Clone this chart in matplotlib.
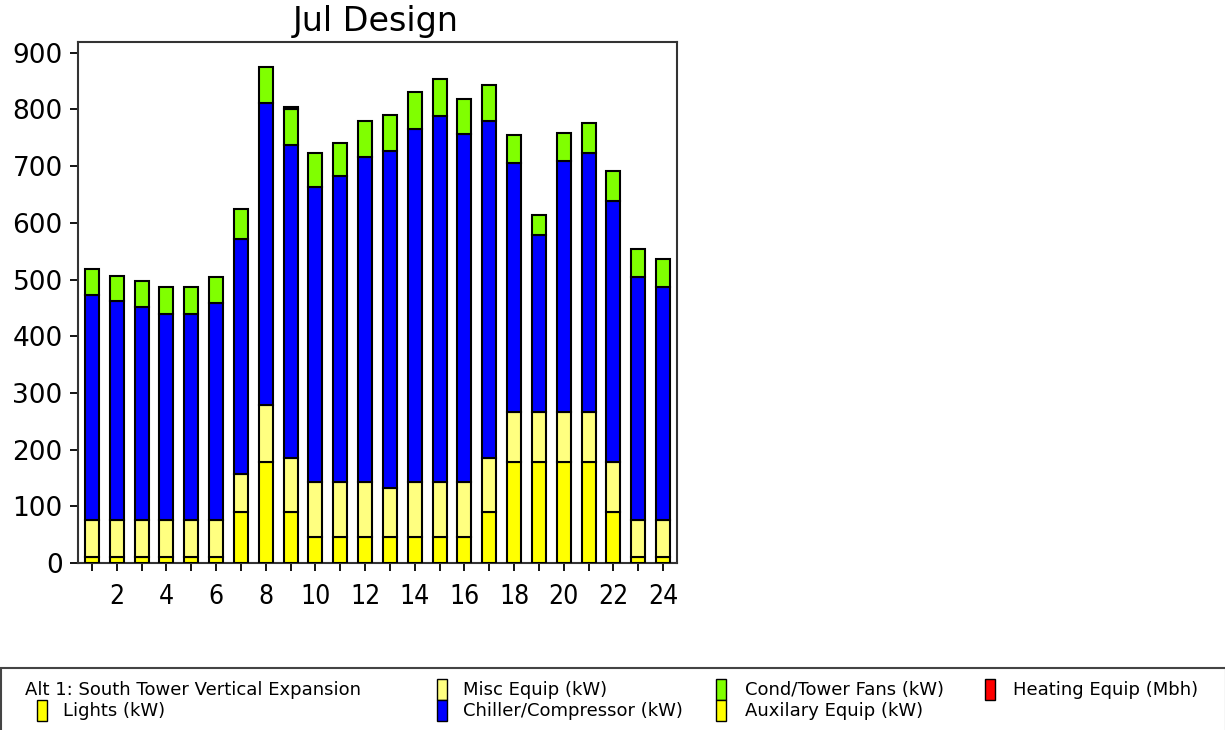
import matplotlib
matplotlib.use("Agg")
import matplotlib.pyplot as plt
from matplotlib.patches import Rectangle
from matplotlib import font_manager
import numpy as np

hours = list(range(1, 25))
lights = [10, 10, 10, 10, 10, 10, 90, 179, 90, 45, 45, 45, 45, 45, 45, 45, 90, 179, 179, 179, 179, 90, 10, 10]
auxiliary = [0] * 24
misc = [65, 65, 65, 65, 65, 65, 67, 99, 95, 98, 98, 98, 87, 98, 98, 98, 95, 88, 88, 88, 88, 89, 65, 65]
chiller = [397, 387, 376, 365, 365, 384, 414, 534, 553, 521, 539, 574, 595, 623, 645, 613, 595, 438, 311, 442, 456, 460, 429, 412]
fans = [46, 45, 46, 46, 46, 45, 53, 63, 63, 59, 59, 63, 64, 64, 66, 63, 64, 50, 36, 49, 53, 53, 49, 49]
heating = [0, 0, 0, 0, 0, 0, 0, 0, 4, 0, 0, 0, 0, 0, 0, 0, 0, 0, 0, 0, 0, 0, 0, 0]
yticks = [0, 100, 200, 300, 400, 500, 600, 700, 800, 900]
xlabels = ["" if h % 2 else str(h) for h in hours]

series = [
    ("Lights (kW)", lights, "#FFFF00"),
    ("Auxilary Equip (kW)", auxiliary, "#FFFF00"),
    ("Misc Equip (kW)", misc, "#FFFF80"),
    ("Chiller/Compressor (kW)", chiller, "#0000FF"),
    ("Cond/Tower Fans (kW)", fans, "#80FF00"),
    ("Heating Equip (Mbh)", heating, "#FF0000"),
]

W, H = 1225, 730
fig = plt.figure(figsize=(W / 100, H / 100), dpi=100)
ax = fig.add_axes([78 / W, 1 - 563 / H, (677 - 78) / W, (563 - 42) / H])

bottom = np.zeros(24)
for name, vals, col in series:
    v = np.array(vals, dtype=float)
    mask = v > 0
    ax.bar(np.array(hours)[mask], v[mask], bottom=bottom[mask], width=0.56,
           color=col, edgecolor="black", linewidth=1.5, zorder=3)
    bottom += v

ax.set_xlim(0.44, 24.56)
ax.set_ylim(0, 919)
ax.set_yticks(yticks)
ax.set_yticklabels([str(t) for t in yticks], fontsize=19, family="DejaVu Sans")
ax.set_xticks(hours)
names = {f.name for f in font_manager.fontManager.ttflist}
if "Liberation Sans Narrow" in names:
    ax.set_xticklabels(xlabels, fontsize=20, family="Liberation Sans Narrow")
else:
    ax.set_xticklabels(xlabels, fontsize=19, family="DejaVu Sans", fontstretch="condensed")
ax.tick_params(axis="x", length=6, width=1.3, pad=9, direction="out")
ax.tick_params(axis="y", length=6, width=1.3, pad=5, direction="out")
for s in ax.spines.values():
    s.set_linewidth(1.5)
    s.set_color("#333333")

fig.text(376 / W, 1 - 22 / H, "Jul Design", fontsize=24, family="DejaVu Sans",
         ha="center", va="center")

# Legend box
fig.patches.append(Rectangle((1 / W, -0.01), 1.0, (730 - 668) / H + 0.01,
                             transform=fig.transFigure, fill=False,
                             edgecolor="#444444", linewidth=1.5))

def sw(x, ytop, col):
    fig.patches.append(Rectangle((x / W, 1 - (ytop + 21) / H), 10 / W, 21 / H,
                                 transform=fig.transFigure, facecolor=col,
                                 edgecolor="black", linewidth=1.0))

def lt(x, y, s):
    fig.text(x / W, 1 - y / H, s, fontsize=13, family="DejaVu Sans",
             ha="left", va="center")

lt(25, 690, "Alt 1: South Tower Vertical Expansion")
sw(37, 700, "#FFFF00"); lt(63, 711, "Lights (kW)")
sw(437, 679, "#FFFF80"); lt(463, 690, "Misc Equip (kW)")
sw(437, 700, "#0000FF"); lt(463, 711, "Chiller/Compressor (kW)")
sw(716, 679, "#80FF00"); lt(745, 690, "Cond/Tower Fans (kW)")
sw(716, 700, "#FFFF00"); lt(745, 711, "Auxilary Equip (kW)")
sw(985, 679, "#FF0000"); lt(1013, 690, "Heating Equip (Mbh)")

fig.savefig("out.png", dpi=100)
